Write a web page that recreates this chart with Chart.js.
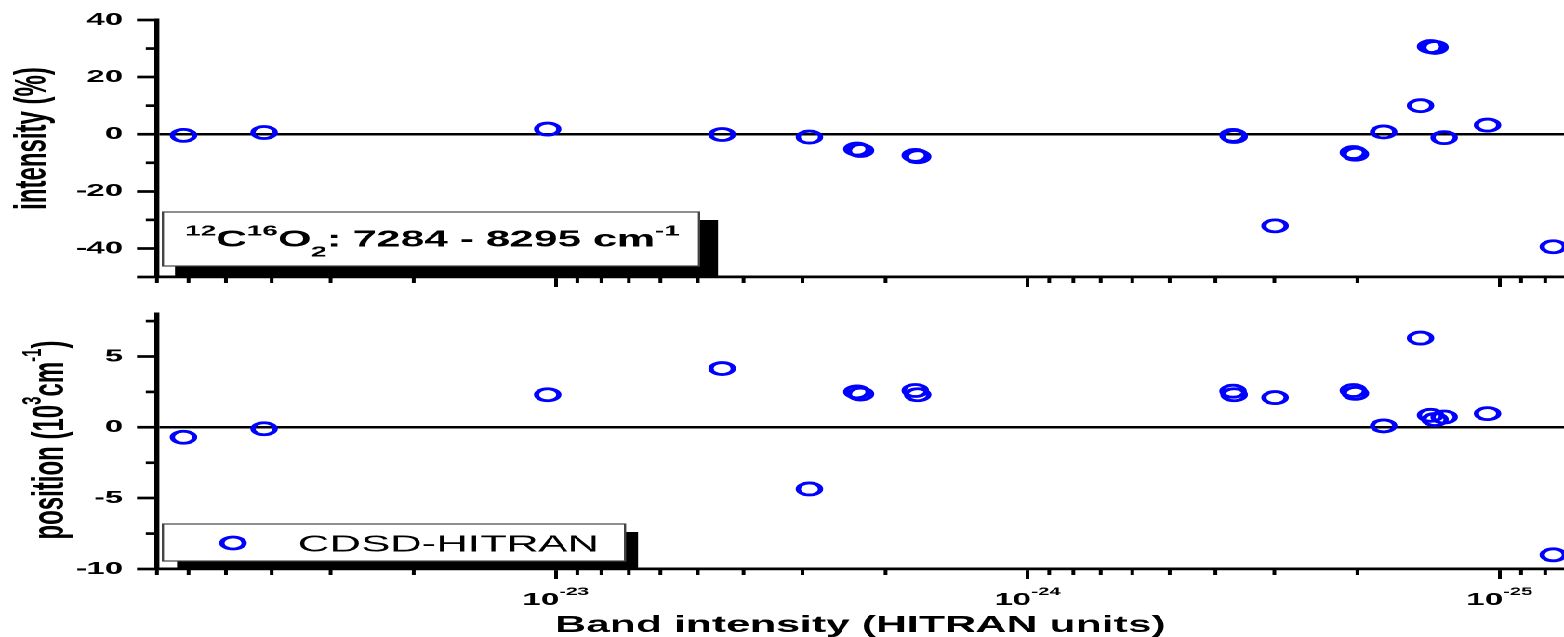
<!DOCTYPE html>
<html>
<head>
<meta charset="utf-8">
<script src="https://cdn.jsdelivr.net/npm/chart.js@4.4.1/dist/chart.umd.min.js"></script>
<style>
  html, body { margin: 0; padding: 0; background: #fff; overflow: hidden; }
  /* the figure is laid out at 841px wide and stretched horizontally to the full page */
  #stage { position: absolute; left: 0; top: 0; width: 841px; height: 637px;
           transform-origin: 0 0; transform: scaleX(1.8597); }
  #topPanel { position: absolute; left: 0; top: 0; }
  #bottomPanel { position: absolute; left: 0; top: 295px; }
</style>
</head>
<body>
<div id="stage">
  <canvas id="topPanel" width="841" height="295"></canvas>
  <canvas id="bottomPanel" width="841" height="342"></canvas>
</div>
<script>
// Band intensities (HITRAN units) of the compared bands
const bandIntensity = [6.15e-23, 4.15e-23, 1.04e-23, 4.44e-24, 2.90e-24, 2.30e-24, 2.26e-24,
  1.73e-24, 1.71e-24, 3.67e-25, 3.65e-25, 2.99e-25, 2.04e-25, 2.02e-25, 1.76e-25, 1.47e-25,
  1.40e-25, 1.37e-25, 1.31e-25, 1.06e-25, 7.69e-26];
// Intensity deviations (%)
const intensityDev = [-0.4, 0.6, 1.8, -0.1, -1.0, -5.2, -5.7, -7.4, -7.9, -0.4, -0.8, -32.1,
  -6.4, -7.0, 0.8, 10.0, 30.7, 30.4, -1.2, 3.2, -39.4];
// Position deviations (10^-3 cm-1)
const positionDev = [-0.7, -0.1, 2.3, 4.15, -4.35, 2.5, 2.35, 2.6, 2.3, 2.55, 2.3, 2.1,
  2.6, 2.4, 0.1, 6.3, 0.85, 0.55, 0.73, 0.97, -9.0];

// Axis ticks
const xMajorTicks = [1e-23, 1e-24, 1e-25];
const xMajorExponents = ['-23', '-24', '-25'];
const xMinorTicks = [7e-23, 6e-23, 5e-23, 4e-23, 3e-23, 2e-23,
  9e-24, 8e-24, 7e-24, 6e-24, 5e-24, 4e-24, 3e-24, 2e-24,
  9e-25, 8e-25, 7e-25, 6e-25, 5e-25, 4e-25, 3e-25, 2e-25,
  9e-26, 8e-26];
const intensityTicks = [-50, -40, -20, 0, 20, 40];
const intensityMinor = [30, 10, -10, -30];
const positionTicks = [-10, -5, 0, 5];
const positionMinor = [7.5, 2.5, -2.5, -7.5];

const FONT = "'Liberation Sans', Arial, sans-serif";
const BLUE = '#0000ff';

function setFont(ctx, r) {
  ctx.font = `${r.w || 'bold'} ${r.s}px ${FONT}`;
}
function runsWidth(ctx, runs) {
  let w = 0;
  for (const r of runs) { setFont(ctx, r); w += ctx.measureText(r.t).width; }
  return w;
}
function drawRuns(ctx, runs, x, y) {
  let cx = x;
  for (const r of runs) {
    setFont(ctx, r);
    ctx.fillText(r.t, cx, y + (r.dy || 0));
    cx += ctx.measureText(r.t).width;
  }
}

// Minor tick marks on both axes
const minorTicks = {
  id: 'minorTicks',
  afterDraw(chart, args, opts) {
    const ctx = chart.ctx, xs = chart.scales.x, ys = chart.scales.y;
    ctx.save();
    ctx.strokeStyle = '#000';
    ctx.lineWidth = 2;
    for (const v of xMinorTicks) {
      const px = xs.getPixelForValue(v);
      ctx.beginPath(); ctx.moveTo(px, xs.top); ctx.lineTo(px, xs.top + 6); ctx.stroke();
    }
    ctx.lineWidth = 2.7;
    for (const v of opts.yMinor) {
      const py = ys.getPixelForValue(v);
      ctx.beginPath(); ctx.moveTo(ys.right - 6, py); ctx.lineTo(ys.right, py); ctx.stroke();
    }
    ctx.restore();
  }
};

// Rotated y title, x tick labels with exponents, x title
const titles = {
  id: 'titles',
  afterDraw(chart, args, opts) {
    const ctx = chart.ctx;
    ctx.save();
    ctx.fillStyle = '#000';
    ctx.textAlign = 'left';
    ctx.textBaseline = 'alphabetic';
    const yt = opts.yTitle;
    ctx.save();
    ctx.translate(yt.x, yt.y);
    ctx.rotate(-Math.PI / 2);
    drawRuns(ctx, yt.runs, -runsWidth(ctx, yt.runs) / 2, 0);
    ctx.restore();
    if (opts.xLabels) {
      const xs = chart.scales.x;
      xMajorTicks.forEach((v, i) => {
        const runs = [{ t: '10', s: 17.7 }, { t: xMajorExponents[i], s: 11, dy: -10 }];
        const px = xs.getPixelForValue(v);
        drawRuns(ctx, runs, px - runsWidth(ctx, runs) / 2, opts.xLabels.y);
      });
    }
    if (opts.xTitle) {
      const ca = chart.chartArea;
      const runs = [{ t: opts.xTitle.text, s: 23 }];
      drawRuns(ctx, runs, (ca.left + ca.right) / 2 - runsWidth(ctx, runs) / 2, opts.xTitle.y);
    }
    ctx.restore();
  }
};

// Framed label with drop shadow (formula box / legend)
const framedBox = {
  id: 'framedBox',
  afterDraw(chart, args, opts) {
    const ctx = chart.ctx, b = opts.box, s = opts.shadow;
    ctx.save();
    ctx.fillStyle = '#000';
    ctx.fillRect(s.x0, s.y0, s.x1 - s.x0, s.y1 - s.y0);
    ctx.fillStyle = '#fff';
    ctx.fillRect(b.x0, b.y0, b.x1 - b.x0, b.y1 - b.y0);
    ctx.strokeStyle = '#444';
    ctx.lineWidth = 1.2;
    ctx.strokeRect(b.x0, b.y0, b.x1 - b.x0, b.y1 - b.y0);
    if (opts.marker) {
      ctx.strokeStyle = BLUE;
      ctx.lineWidth = 2.8;
      ctx.beginPath();
      ctx.arc(opts.marker.x, opts.marker.y, 6, 0, Math.PI * 2);
      ctx.stroke();
    }
    ctx.fillStyle = '#000';
    ctx.textAlign = 'left';
    ctx.textBaseline = 'alphabetic';
    drawRuns(ctx, opts.runs, opts.textX, opts.textY);
    ctx.restore();
  }
};

function makePanel(canvasId, values, yMin, yMax, yTicks, padTop, xAxisHeight, plugins) {
  return new Chart(document.getElementById(canvasId), {
    type: 'scatter',
    data: {
      datasets: [{
        data: bandIntensity.map((x, i) => ({ x, y: values[i] })),
        showLine: false,
        pointStyle: 'circle',
        pointRadius: 6,
        pointHoverRadius: 6,
        pointBorderWidth: 2.8,
        pointBorderColor: BLUE,
        pointBackgroundColor: 'rgba(0,0,0,0)',
        clip: false
      }]
    },
    options: {
      responsive: false,
      animation: false,
      devicePixelRatio: 2,
      events: [],
      layout: { autoPadding: false, padding: { top: padTop, right: 0, bottom: 0, left: 0 } },
      scales: {
        x: {
          type: 'logarithmic',
          reverse: true,
          bounds: 'data',
          min: 7.3e-26,
          max: 7e-23,
          afterBuildTicks: s => { s.ticks = xMajorTicks.map(v => ({ value: v })); },
          afterFit: s => { s.height = xAxisHeight; },
          ticks: { display: false },
          grid: { drawOnChartArea: false, drawTicks: true, tickLength: 10, tickWidth: 2, tickColor: '#000' },
          border: { display: true, color: '#000', width: 2.7 }
        },
        y: {
          type: 'linear',
          min: yMin,
          max: yMax,
          afterBuildTicks: s => { s.ticks = yTicks.map(v => ({ value: v })); },
          afterFit: s => { s.width = 84.4; },
          ticks: {
            color: '#000',
            padding: 7.5,
            font: { family: FONT, weight: 'bold', size: 17.5 },
            callback: v => (v === -50 ? '' : String(v))
          },
          grid: {
            drawOnChartArea: true,
            drawTicks: true,
            tickLength: 10.75,
            tickWidth: 2.7,
            tickColor: '#000',
            color: c => (c.tick && c.tick.value === 0 ? '#000' : 'rgba(0,0,0,0)'),
            lineWidth: c => (c.tick && c.tick.value === 0 ? 2.5 : 0)
          },
          border: { display: true, color: '#000', width: 2.7 }
        }
      },
      plugins: Object.assign({ legend: { display: false }, tooltip: { enabled: false } }, plugins)
    },
    plugins: [minorTicks, framedBox, titles]
  });
}

makePanel('topPanel', intensityDev, -50, 40, intensityTicks, 20, 18, {
  minorTicks: { yMinor: intensityMinor },
  titles: { yTitle: { x: 24.5, y: 138.5, runs: [{ t: 'intensity (%)', s: 24 }] } },
  framedBox: {
    box: { x0: 87.6, y0: 212, x1: 375.9, y1: 266 },
    shadow: { x0: 94.1, y0: 220, x1: 386.1, y1: 276 },
    textX: 99.5, textY: 246.7,
    runs: [
      { t: '12', s: 15, dy: -11 }, { t: 'C', s: 23 }, { t: '16', s: 15, dy: -11 },
      { t: 'O', s: 23 }, { t: '2', s: 15, dy: 10 }, { t: ': 7284 - 8295 cm', s: 23 },
      { t: '-1', s: 15, dy: -11 }
    ]
  }
});

makePanel('bottomPanel', positionDev, -10, 8, positionTicks, 19, 68, {
  minorTicks: { yMinor: positionMinor },
  titles: {
    yTitle: {
      x: 34.2, y: 145,
      runs: [
        { t: 'position (10', s: 24 }, { t: '3', s: 15, dy: -12 }, { t: 'cm', s: 24 },
        { t: '-1', s: 15, dy: -12 }, { t: ')', s: 24 }
      ]
    },
    xLabels: { y: 310 },
    xTitle: { text: 'Band intensity (HITRAN units)', y: 337 }
  },
  framedBox: {
    box: { x0: 87.6, y0: 229, x1: 336.1, y1: 266 },
    shadow: { x0: 95.2, y0: 237, x1: 343.1, y1: 274 },
    marker: { x: 125.3, y: 248 },
    textX: 160.2, textY: 256.7,
    runs: [{ t: 'CDSD-HITRAN', s: 23.5, w: 'normal' }]
  }
});
</script>
</body>
</html>
